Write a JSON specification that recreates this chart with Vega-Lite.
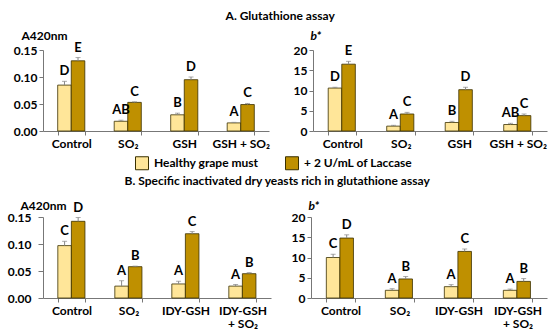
{
  "$schema": "https://vega.github.io/schema/vega-lite/v6.json",
  "padding": {"left": 7, "top": 10, "right": 5, "bottom": 3},
  "background": "white",
  "config": {
    "font": "Lato",
    "view": {"stroke": null},
    "axis": {"labelFont": "Lato", "labelFontWeight": "bold", "labelFontSize": 12, "labelColor": "#000", "titleFont": "Lato", "titleFontWeight": "bold", "titleFontSize": 12, "titleColor": "#000", "domainColor": "#777", "tickColor": "#777", "grid": false, "labelOverlap": false},
    "title": {"font": "Lato", "fontWeight": "bold", "fontSize": 12, "color": "#000", "anchor": "middle"}
  },
  "datasets": {
    "d": [
      {"panel": "AL", "cat": "Control", "grp": "Healthy grape must", "v": 0.085, "hi": 0.092, "lab": "D"},
      {"panel": "AL", "cat": "Control", "grp": "+ 2 U/mL of Laccase", "v": 0.130, "hi": 0.136, "lab": "E"},
      {"panel": "AL", "cat": "SO₂", "grp": "Healthy grape must", "v": 0.018, "hi": 0.020, "lab": "AB"},
      {"panel": "AL", "cat": "SO₂", "grp": "+ 2 U/mL of Laccase", "v": 0.053, "hi": 0.054, "lab": "C"},
      {"panel": "AL", "cat": "GSH", "grp": "Healthy grape must", "v": 0.030, "hi": 0.033, "lab": "B"},
      {"panel": "AL", "cat": "GSH", "grp": "+ 2 U/mL of Laccase", "v": 0.095, "hi": 0.100, "lab": "D"},
      {"panel": "AL", "cat": "GSH + SO₂", "grp": "Healthy grape must", "v": 0.015, "hi": 0.016, "lab": "A"},
      {"panel": "AL", "cat": "GSH + SO₂", "grp": "+ 2 U/mL of Laccase", "v": 0.049, "hi": 0.051, "lab": "C"},
      {"panel": "AR", "cat": "Control", "grp": "Healthy grape must", "v": 10.6, "hi": 10.8, "lab": "D"},
      {"panel": "AR", "cat": "Control", "grp": "+ 2 U/mL of Laccase", "v": 16.5, "hi": 17.2, "lab": "E"},
      {"panel": "AR", "cat": "SO₂", "grp": "Healthy grape must", "v": 1.2, "hi": 1.4, "lab": "A"},
      {"panel": "AR", "cat": "SO₂", "grp": "+ 2 U/mL of Laccase", "v": 4.2, "hi": 4.6, "lab": "C"},
      {"panel": "AR", "cat": "GSH", "grp": "Healthy grape must", "v": 2.1, "hi": 2.4, "lab": "B"},
      {"panel": "AR", "cat": "GSH", "grp": "+ 2 U/mL of Laccase", "v": 10.2, "hi": 10.8, "lab": "D"},
      {"panel": "AR", "cat": "GSH + SO₂", "grp": "Healthy grape must", "v": 1.6, "hi": 1.9, "lab": "AB"},
      {"panel": "AR", "cat": "GSH + SO₂", "grp": "+ 2 U/mL of Laccase", "v": 3.8, "hi": 4.2, "lab": "C"},
      {"panel": "BL", "cat": "Control", "grp": "Healthy grape must", "v": 0.097, "hi": 0.105, "lab": "C"},
      {"panel": "BL", "cat": "Control", "grp": "+ 2 U/mL of Laccase", "v": 0.142, "hi": 0.149, "lab": "D"},
      {"panel": "BL", "cat": "SO₂", "grp": "Healthy grape must", "v": 0.022, "hi": 0.032, "lab": "A"},
      {"panel": "BL", "cat": "SO₂", "grp": "+ 2 U/mL of Laccase", "v": 0.058, "hi": 0.059, "lab": "B"},
      {"panel": "BL", "cat": "IDY-GSH", "grp": "Healthy grape must", "v": 0.026, "hi": 0.031, "lab": "A"},
      {"panel": "BL", "cat": "IDY-GSH", "grp": "+ 2 U/mL of Laccase", "v": 0.119, "hi": 0.123, "lab": "C"},
      {"panel": "BL", "cat": "IDY-GSH + SO₂", "grp": "Healthy grape must", "v": 0.022, "hi": 0.025, "lab": "A"},
      {"panel": "BL", "cat": "IDY-GSH + SO₂", "grp": "+ 2 U/mL of Laccase", "v": 0.045, "hi": 0.047, "lab": "B"},
      {"panel": "BR", "cat": "Control", "grp": "Healthy grape must", "v": 10.0, "hi": 10.8, "lab": "C"},
      {"panel": "BR", "cat": "Control", "grp": "+ 2 U/mL of Laccase", "v": 14.8, "hi": 15.6, "lab": "D"},
      {"panel": "BR", "cat": "SO₂", "grp": "Healthy grape must", "v": 1.9, "hi": 2.3, "lab": "A"},
      {"panel": "BR", "cat": "SO₂", "grp": "+ 2 U/mL of Laccase", "v": 4.7, "hi": 5.3, "lab": "B"},
      {"panel": "BR", "cat": "IDY-GSH", "grp": "Healthy grape must", "v": 2.8, "hi": 3.3, "lab": "A"},
      {"panel": "BR", "cat": "IDY-GSH", "grp": "+ 2 U/mL of Laccase", "v": 11.5, "hi": 12.1, "lab": "C"},
      {"panel": "BR", "cat": "IDY-GSH + SO₂", "grp": "Healthy grape must", "v": 1.9, "hi": 2.2, "lab": "A"},
      {"panel": "BR", "cat": "IDY-GSH + SO₂", "grp": "+ 2 U/mL of Laccase", "v": 4.1, "hi": 4.8, "lab": "B"}
    ]
  },
  "vconcat": [
    {
      "title": {"text": "A. Glutathione assay", "offset": 6},
      "spacing": 23,
      "hconcat": [
        {
          "width": 226, "height": 81,
          "data": {"name": "d"},
          "transform": [{"filter": "datum.panel == 'AL'"}],
          "encoding": {
            "x": {"field": "cat", "type": "nominal", "sort": null, "title": null, "scale": {"paddingInner": 0.52, "paddingOuter": 0.26}, "axis": {"labelAngle": 0, "tickBand": "extent", "tickSize": 4, "labelPadding": 3}},
            "xOffset": {"field": "grp", "type": "nominal", "sort": ["Healthy grape must", "+ 2 U/mL of Laccase"], "scale": {"paddingInner": 0, "paddingOuter": 0}},
            "y": {"field": "v", "type": "quantitative", "title": "A420nm", "scale": {"domain": [0, 0.15], "nice": false}, "axis": {"values": [0, 0.05, 0.1, 0.15], "format": ".2f", "titleAngle": 0, "titleAlign": "left", "titleX": -22, "titleY": -8, "tickSize": 4, "labelOverlap": false}}
          },
          "layer": [
            {"mark": {"type": "bar", "stroke": "#3a3000", "strokeWidth": 0.8}, "encoding": {"color": {"field": "grp", "type": "nominal", "sort": ["Healthy grape must", "+ 2 U/mL of Laccase"], "scale": {"range": ["#FFE699", "#BF9000"]}, "title": null, "legend": {"orient": "none", "direction": "horizontal", "legendX": 92, "legendY": 106, "symbolType": "square", "symbolSize": 169, "symbolStrokeColor": "#333", "symbolStrokeWidth": 1, "labelFontSize": 12, "labelFontWeight": "bold", "labelFont": "Lato", "labelColor": "#000", "columnPadding": 24, "labelOffset": 5}}}},
            {"mark": {"type": "rule", "color": "#888", "strokeWidth": 1}, "encoding": {"y2": {"field": "hi"}}},
            {"mark": {"type": "tick", "color": "#888", "thickness": 1, "size": 5, "orient": "horizontal"}, "encoding": {"y": {"field": "hi", "type": "quantitative", "title": "A420nm", "axis": {"values": [0, 0.05, 0.1, 0.15], "format": ".2f", "titleAngle": 0, "titleAlign": "left", "titleX": -22, "titleY": -8, "tickSize": 4, "labelOverlap": false}}}},
            {"mark": {"type": "text", "fontWeight": "bold", "fontSize": 13, "dy": -10, "font": "Lato"}, "encoding": {"y": {"field": "hi", "type": "quantitative", "title": "A420nm", "axis": {"values": [0, 0.05, 0.1, 0.15], "format": ".2f", "titleAngle": 0, "titleAlign": "left", "titleX": -22, "titleY": -8, "tickSize": 4, "labelOverlap": false}}, "text": {"field": "lab"}}}
          ]
        },
        {
          "width": 234, "height": 81,
          "data": {"name": "d"},
          "transform": [{"filter": "datum.panel == 'AR'"}],
          "encoding": {
            "x": {"field": "cat", "type": "nominal", "sort": null, "title": null, "scale": {"paddingInner": 0.52, "paddingOuter": 0.26}, "axis": {"labelAngle": 0, "tickBand": "extent", "tickSize": 4, "labelPadding": 3}},
            "xOffset": {"field": "grp", "type": "nominal", "sort": ["Healthy grape must", "+ 2 U/mL of Laccase"], "scale": {"paddingInner": 0, "paddingOuter": 0}},
            "y": {"field": "v", "type": "quantitative", "title": "b*", "scale": {"domain": [0, 20], "nice": false}, "axis": {"values": [0, 5, 10, 15, 20], "titleAngle": 0, "titleAlign": "left", "titleX": -3, "titleY": -8, "titleFontStyle": "italic", "tickSize": 4, "labelOverlap": false}}
          },
          "layer": [
            {"mark": {"type": "bar", "stroke": "#3a3000", "strokeWidth": 0.8}, "encoding": {"color": {"field": "grp", "type": "nominal", "sort": ["Healthy grape must", "+ 2 U/mL of Laccase"]}}},
            {"mark": {"type": "rule", "color": "#888", "strokeWidth": 1}, "encoding": {"y2": {"field": "hi"}}},
            {"mark": {"type": "tick", "color": "#888", "thickness": 1, "size": 5, "orient": "horizontal"}, "encoding": {"y": {"field": "hi", "type": "quantitative", "title": "b*", "axis": {"values": [0, 5, 10, 15, 20], "titleAngle": 0, "titleAlign": "left", "titleX": -3, "titleY": -8, "titleFontStyle": "italic", "tickSize": 4, "labelOverlap": false}}}},
            {"mark": {"type": "text", "fontWeight": "bold", "fontSize": 13, "dy": -10, "font": "Lato"}, "encoding": {"y": {"field": "hi", "type": "quantitative", "title": "b*", "axis": {"values": [0, 5, 10, 15, 20], "titleAngle": 0, "titleAlign": "left", "titleX": -3, "titleY": -8, "titleFontStyle": "italic", "tickSize": 4, "labelOverlap": false}}, "text": {"field": "lab"}}}
          ]
        }
      ]
    },
    {
      "title": {"text": "B. Specific inactivated dry yeasts rich in glutathione assay", "offset": 11},
      "spacing": 20,
      "hconcat": [
        {
          "width": 228, "height": 81,
          "data": {"name": "d"},
          "transform": [{"filter": "datum.panel == 'BL'"}],
          "encoding": {
            "x": {"field": "cat", "type": "nominal", "sort": null, "title": null, "scale": {"paddingInner": 0.52, "paddingOuter": 0.26}, "axis": {"labelAngle": 0, "tickBand": "extent", "tickSize": 4, "labelPadding": 3, "labelLineHeight": 13, "labelExpr": "datum.label == 'IDY-GSH + SO₂' ? ['IDY-GSH', '+ SO₂'] : datum.label"}},
            "xOffset": {"field": "grp", "type": "nominal", "sort": ["Healthy grape must", "+ 2 U/mL of Laccase"], "scale": {"paddingInner": 0, "paddingOuter": 0}},
            "y": {"field": "v", "type": "quantitative", "title": "A420nm", "scale": {"domain": [0, 0.15], "nice": false}, "axis": {"values": [0, 0.05, 0.1, 0.15], "format": ".2f", "titleAngle": 0, "titleAlign": "left", "titleX": -23, "titleY": -5, "tickSize": 5, "labelPadding": 7, "labelOverlap": false}}
          },
          "layer": [
            {"mark": {"type": "bar", "stroke": "#3a3000", "strokeWidth": 0.8}, "encoding": {"color": {"field": "grp", "type": "nominal", "sort": ["Healthy grape must", "+ 2 U/mL of Laccase"]}}},
            {"mark": {"type": "rule", "color": "#888", "strokeWidth": 1}, "encoding": {"y2": {"field": "hi"}}},
            {"mark": {"type": "tick", "color": "#888", "thickness": 1, "size": 5, "orient": "horizontal"}, "encoding": {"y": {"field": "hi", "type": "quantitative", "title": "A420nm", "axis": {"values": [0, 0.05, 0.1, 0.15], "format": ".2f", "titleAngle": 0, "titleAlign": "left", "titleX": -23, "titleY": -5, "tickSize": 5, "labelPadding": 7, "labelOverlap": false}}}},
            {"mark": {"type": "text", "fontWeight": "bold", "fontSize": 13, "dy": -10, "font": "Lato"}, "encoding": {"y": {"field": "hi", "type": "quantitative", "title": "A420nm", "axis": {"values": [0, 0.05, 0.1, 0.15], "format": ".2f", "titleAngle": 0, "titleAlign": "left", "titleX": -23, "titleY": -5, "tickSize": 5, "labelPadding": 7, "labelOverlap": false}}, "text": {"field": "lab"}}}
          ]
        },
        {
          "width": 236, "height": 81,
          "data": {"name": "d"},
          "transform": [{"filter": "datum.panel == 'BR'"}],
          "encoding": {
            "x": {"field": "cat", "type": "nominal", "sort": null, "title": null, "scale": {"paddingInner": 0.52, "paddingOuter": 0.26}, "axis": {"labelAngle": 0, "tickBand": "extent", "tickSize": 4, "labelPadding": 3, "labelLineHeight": 13, "labelExpr": "datum.label == 'IDY-GSH + SO₂' ? ['IDY-GSH', '+ SO₂'] : datum.label"}},
            "xOffset": {"field": "grp", "type": "nominal", "sort": ["Healthy grape must", "+ 2 U/mL of Laccase"], "scale": {"paddingInner": 0, "paddingOuter": 0}},
            "y": {"field": "v", "type": "quantitative", "title": "b*", "scale": {"domain": [0, 20], "nice": false}, "axis": {"values": [0, 5, 10, 15, 20], "titleAngle": 0, "titleAlign": "left", "titleX": -3, "titleY": -5, "titleFontStyle": "italic", "tickSize": 4, "labelOverlap": false}}
          },
          "layer": [
            {"mark": {"type": "bar", "stroke": "#3a3000", "strokeWidth": 0.8}, "encoding": {"color": {"field": "grp", "type": "nominal", "sort": ["Healthy grape must", "+ 2 U/mL of Laccase"]}}},
            {"mark": {"type": "rule", "color": "#888", "strokeWidth": 1}, "encoding": {"y2": {"field": "hi"}}},
            {"mark": {"type": "tick", "color": "#888", "thickness": 1, "size": 5, "orient": "horizontal"}, "encoding": {"y": {"field": "hi", "type": "quantitative", "title": "b*", "axis": {"values": [0, 5, 10, 15, 20], "titleAngle": 0, "titleAlign": "left", "titleX": -3, "titleY": -5, "titleFontStyle": "italic", "tickSize": 4, "labelOverlap": false}}}},
            {"mark": {"type": "text", "fontWeight": "bold", "fontSize": 13, "dy": -10, "font": "Lato"}, "encoding": {"y": {"field": "hi", "type": "quantitative", "title": "b*", "axis": {"values": [0, 5, 10, 15, 20], "titleAngle": 0, "titleAlign": "left", "titleX": -3, "titleY": -5, "titleFontStyle": "italic", "tickSize": 4, "labelOverlap": false}}, "text": {"field": "lab"}}}
          ]
        }
      ]
    }
  ],
  "spacing": 26
}
